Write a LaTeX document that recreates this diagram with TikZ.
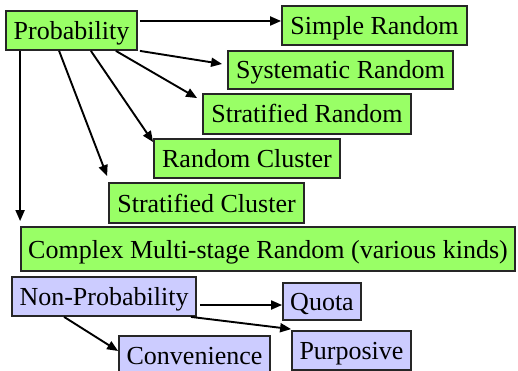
\documentclass[tikz,border=0pt]{standalone}
\usepackage{fontspec}
\setmainfont{Liberation Serif}
\newfontfamily\boxfont{Liberation Serif}
\usetikzlibrary{arrows.meta}
\definecolor{pgreen}{HTML}{99FF66}
\definecolor{plav}{HTML}{CCCCFF}
\tikzset{
  box/.style={draw=black!85, line width=1.8pt, inner sep=0pt, anchor=center,
    text height=20pt, text depth=2pt, font=\boxfont\fontsize{26}{30}\selectfont},
  gbox/.style={box, fill=pgreen},
  lbox/.style={box, fill=plav},
  arr/.style={line width=1.9pt, -{Triangle[length=11pt,width=9pt]}},
}
\begin{document}
\begin{tikzpicture}[x=1pt,y=-1pt]
\useasboundingbox (0,0) rectangle (518,371);
\clip (0,0) rectangle (518,371);
\node[gbox, minimum width=131pt, minimum height=39pt] (prob) at (71.5,30.5) {Probability};
\node[gbox, minimum width=185pt, minimum height=39pt] (simple) at (374.5,25.5) {Simple Random};
\node[gbox, minimum width=225pt, minimum height=38pt] (sys) at (340.5,70) {Systematic Random};
\node[gbox, minimum width=208pt, minimum height=40pt] (sr) at (307,114) {Stratified Random};
\node[gbox, minimum width=186pt, minimum height=39pt] (rc) at (247,158.5) {Random Cluster};
\node[gbox, minimum width=195pt, minimum height=40pt] (sc) at (206.5,203) {Stratified Cluster};
\node[gbox, minimum width=494pt, minimum height=44pt] (cx) at (268,249) {Complex Multi-stage Random (various kinds)};
\node[lbox, minimum width=184pt, minimum height=39pt] (np) at (104,296.5) {Non-Probability};
\node[lbox, minimum width=78pt, minimum height=37pt] (quota) at (322,301.5) {Quota};
\node[lbox, minimum width=119pt, minimum height=39pt] (purp) at (351.5,350.5) {Purposive};
\node[lbox, minimum width=151pt, minimum height=39pt] (conv) at (194.5,355.5) {Convenience};

\draw[arr] ([xshift=2pt,yshift=9.5pt]prob.east) -- ([yshift=4.5pt]simple.west);
\draw[arr] ([xshift=2pt]prob.south east) -- ([xshift=-5pt,yshift=6pt]sys.west);
\draw[arr] ([xshift=-22pt]prob.south east) -- ([xshift=-5pt,yshift=-5pt]sr.north west);
\draw[arr] ([xshift=-47pt]prob.south east) -- ([yshift=-4pt]rc.north west);
\draw[arr] ([xshift=54pt]prob.south west) -- ([xshift=-1pt,yshift=6pt]sc.north west);
\draw[arr] ([xshift=15pt]prob.south west) -- ([yshift=5pt]cx.north west);

\draw[arr] ([xshift=3pt,yshift=-8.5pt]np.east) -- ([yshift=-3.5pt]quota.west);
\draw[arr] ([xshift=-6pt]np.south east) -- ([yshift=1pt]purp.north west);
\draw[arr] ([xshift=53pt]np.south west) -- ([yshift=4.5pt]conv.west);
\end{tikzpicture}
\end{document}
